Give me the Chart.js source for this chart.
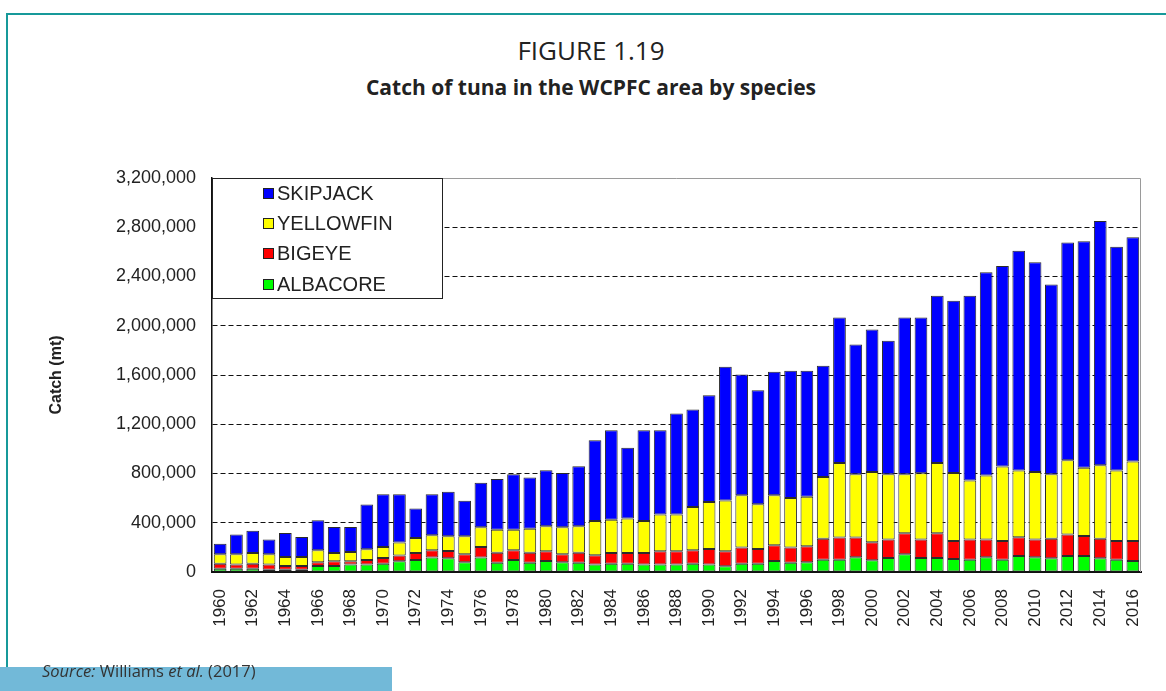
<!DOCTYPE html>
<html lang="en">
<head>
  <meta charset="UTF-8" />
  <title>Catch of tuna in the WCPFC area by species</title>
  <script src="https://cdn.jsdelivr.net/npm/chart.js"></script>
  <style>
    html, body { margin: 0; padding: 0; background: #fff; }
    .page { position: relative; width: 1166px; height: 691px; overflow: hidden; }
    .frame-top { position: absolute; left: 6px; top: 13px; width: 1160px; height: 2px; background: #17999a; }
    .frame-left { position: absolute; left: 6px; top: 13px; width: 2px; height: 678px; background: #17999a; }
    .fig-num { position: absolute; left: 0; top: 32px; width: 1182px; text-align: center;
      font-family: "Open Sans", sans-serif; font-size: 26px; color: #222; }
    .fig-title { position: absolute; left: 0; top: 73px; width: 1182px; text-align: center;
      font-family: "Open Sans", sans-serif; font-weight: bold; font-size: 21px; color: #222; }
    .source { position: absolute; left: 0; top: 667px; width: 392px; height: 24px; background: #72b9d8; }
    .source span.txt { position: absolute; left: 42px; top: -8px; font-family: "Open Sans", sans-serif;
      font-size: 16.5px; color: #333; white-space: nowrap; }
    canvas { position: absolute; left: 0; top: 0; }
  </style>
</head>
<body>
  <div class="page">
    <div class="frame-top"></div>
    <div class="frame-left"></div>
    <div class="fig-num">FIGURE 1.19</div>
    <div class="fig-title">Catch of tuna in the WCPFC area by species</div>
    <canvas id="tunaChart" width="1166" height="691"></canvas>
    <div class="source"><span class="txt"><i>Source:</i> Williams <i>et al.</i> (2017)</span></div>
  </div>

  <script>
    const years = ['1960','1961','1962','1963','1964','1965','1966','1967','1968','1969',
      '1970','1971','1972','1973','1974','1975','1976','1977','1978','1979',
      '1980','1981','1982','1983','1984','1985','1986','1987','1988','1989',
      '1990','1991','1992','1993','1994','1995','1996','1997','1998','1999',
      '2000','2001','2002','2003','2004','2005','2006','2007','2008','2009',
      '2010','2011','2012','2013','2014','2015','2016'];

    // catch in tonnes
    const albacore = [27000,27000,27000,19000,19000,19000,49000,49000,60000,60000,
      68000,87000,98000,117000,111000,79000,117000,76000,98000,76000,
      89000,79000,76000,60000,68000,68000,60000,60000,60000,68000,
      60000,46000,68000,68000,89000,76000,79000,100000,100000,119000,
      95000,114000,144000,114000,114000,106000,100000,119000,100000,130000,
      119000,111000,130000,130000,111000,100000,89000];
    const bigeye = [41000,33000,41000,41000,30000,30000,30000,38000,27000,38000,
      46000,46000,57000,59000,60000,65000,86000,81000,78000,81000,
      79000,65000,81000,76000,87000,87000,95000,108000,108000,108000,
      127000,122000,130000,119000,128000,122000,130000,171000,180000,161000,
      146000,149000,170000,149000,200000,146000,163000,144000,152000,152000,
      144000,160000,174000,163000,160000,152000,163000];
    const yellowfin = [76000,84000,87000,84000,73000,73000,97000,68000,76000,86000,
      89000,106000,122000,122000,119000,146000,160000,187000,168000,195000,
      203000,219000,214000,279000,270000,279000,260000,298000,298000,352000,
      382000,412000,425000,363000,406000,404000,403000,501000,606000,514000,
      572000,531000,480000,539000,572000,553000,480000,520000,604000,542000,
      550000,523000,604000,553000,596000,572000,645000];
    const skipjack = [86000,160000,181000,119000,195000,163000,244000,211000,203000,364000,
      429000,393000,238000,334000,361000,288000,361000,412000,450000,415000,
      456000,442000,488000,655000,727000,575000,737000,686000,822000,792000,
      867000,1087000,981000,927000,1003000,1032000,1022000,903000,1182000,1054000,
      1157000,1084000,1274000,1266000,1358000,1398000,1501000,1651000,1629000,1786000,
      1702000,1542000,1769000,1840000,1984000,1818000,1821000];

    const yMax = 3200000;
    const yStep = 400000;

    const bar = (label, data, color) => ({
      label: label,
      data: data,
      backgroundColor: color,
      borderColor: '#2b2b2b',
      borderWidth: 1,
      borderSkipped: false,
      barPercentage: 0.78,
      categoryPercentage: 1.0
    });

    // legend sits inside the plot, top-left, plus grey top/right frame
    const insideLegend = {
      id: 'insideLegend',
      afterDatasetsDraw(chart) {
        const ctx = chart.ctx;
        const a = chart.chartArea;
        ctx.save();
        ctx.strokeStyle = '#9a9a9a';
        ctx.lineWidth = 1;
        ctx.beginPath();
        ctx.moveTo(a.left, a.top + 0.5);
        ctx.lineTo(a.right - 0.5, a.top + 0.5);
        ctx.lineTo(a.right - 0.5, a.bottom);
        ctx.stroke();

        const bx = a.left, by = a.top, bw = 230, bh = 120;
        ctx.fillStyle = '#fff';
        ctx.fillRect(bx, by, bw, bh);
        ctx.strokeStyle = '#222';
        ctx.strokeRect(bx + 0.5, by + 0.5, bw, bh);
        ctx.font = '20px "Liberation Sans", Arial, sans-serif';
        ctx.textBaseline = 'middle';
        const sets = chart.data.datasets.slice().reverse();
        sets.forEach((ds, i) => {
          const cy = Math.round(by + 15 + i * 30.2);
          ctx.fillStyle = ds.backgroundColor;
          ctx.fillRect(bx + 51, cy - 5, 10, 10);
          ctx.strokeStyle = '#222';
          ctx.strokeRect(bx + 51.5, cy - 4.5, 10, 10);
          ctx.fillStyle = '#222';
          ctx.fillText(ds.label, bx + 65, cy + 1);
        });
        ctx.restore();
      }
    };

    new Chart(document.getElementById('tunaChart'), {
      type: 'bar',
      data: {
        labels: years,
        datasets: [
          bar('ALBACORE', albacore, '#00ff00'),
          bar('BIGEYE', bigeye, '#ff0000'),
          bar('YELLOWFIN', yellowfin, '#ffff00'),
          bar('SKIPJACK', skipjack, '#0000ff')
        ]
      },
      options: {
        responsive: false,
        animation: false,
        layout: { padding: { left: 0, right: 25, top: 178, bottom: 59 } },
        plugins: { legend: { display: false }, tooltip: { enabled: false } },
        scales: {
          x: {
            stacked: true,
            afterFit: (s) => { s.height = 60; },
            grid: { display: false },
            border: { display: true, color: '#111', width: 2 },
            ticks: {
              autoSkip: false,
              minRotation: 90,
              maxRotation: 90,
              padding: 9,
              color: '#222',
              font: { family: '"Liberation Sans", Arial, sans-serif', size: 17 },
              callback: function (v, i) { return i % 2 === 0 ? years[i] : ''; }
            }
          },
          y: {
            stacked: true,
            min: 0,
            max: yMax,
            afterFit: (s) => { s.width = 212; },
            grid: {
              drawTicks: false,
              lineWidth: 1,
              color: (c) => (c.tick && c.tick.value > 0 && c.tick.value < yMax) ? '#111' : 'rgba(0,0,0,0)'
            },
            border: { display: true, color: '#111', width: 1.5, dash: [5, 3] },
            ticks: {
              stepSize: yStep,
              padding: 16,
              color: '#222',
              font: { family: '"Liberation Sans", Arial, sans-serif', size: 18 },
              callback: (v) => v.toLocaleString('en-US')
            },
            title: {
              display: true,
              text: 'Catch (mt)',
              color: '#222',
              padding: { top: 47, bottom: 0 },
              font: { family: '"Liberation Sans", Arial, sans-serif', size: 16, weight: 'bold' }
            }
          }
        }
      },
      plugins: [insideLegend]
    });
  </script>
</body>
</html>
